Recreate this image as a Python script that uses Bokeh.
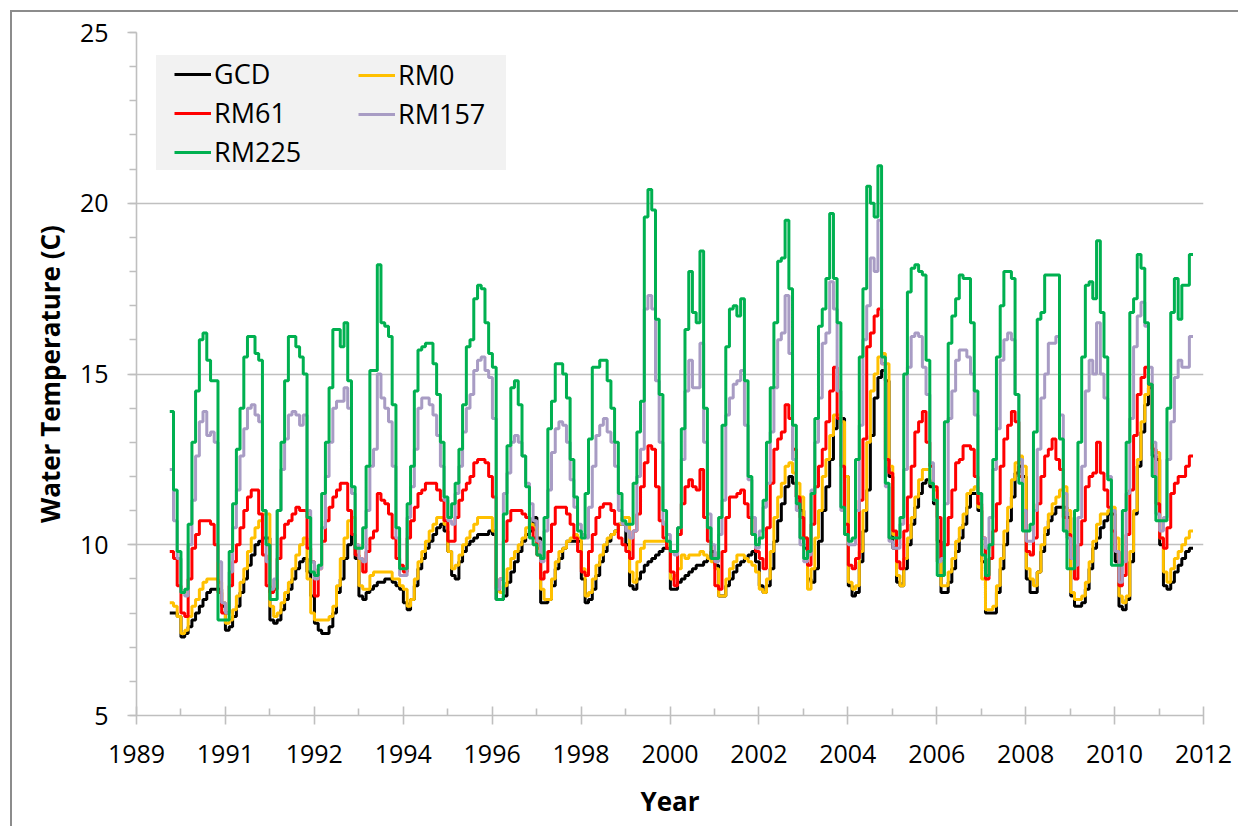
import pandas as pd
from bokeh.plotting import figure
from bokeh.models import Range1d, FixedTicker, Legend, LegendItem
from bokeh.embed import file_html
from bokeh.resources import INLINE

# ---------------- data (monthly means, water years Oct..Sep) ----------------
SERIES_NAMES = ["GCD", "RM0", "RM61", "RM157", "RM225"]
SERIES_COLORS = ["#000000", "#FFC000", "#FF0000", "#A89CC4", "#00B050"]
FIRST_MONTH = "1989-10-01"
WATER_YEARS = list(range(1990, 2013))

GCD = [
    [8.0, 8.0, 7.9, 7.3, 7.4, 7.6, 7.8, 8.0, 8.2, 8.4, 8.6, 8.7],
    [8.7, 8.7, 8.2, 7.5, 7.6, 7.9, 8.2, 8.6, 9.0, 9.4, 9.7, 10.0],
    [10.1, 10.2, 10.2, 7.8, 7.7, 7.8, 8.1, 8.4, 8.7, 9.0, 9.3, 9.5],
    [9.6, 9.2, 8.5, 7.7, 7.5, 7.4, 7.4, 7.6, 8.0, 8.6, 9.0, 9.6],
    [10.0, 10.3, 9.6, 8.5, 8.4, 8.6, 8.7, 8.8, 8.9, 8.9, 9.0, 9.0],
    [8.9, 8.8, 8.7, 8.3, 8.1, 8.4, 8.8, 9.3, 9.6, 9.9, 10.1, 10.3],
    [10.5, 10.6, 10.4, 9.8, 9.1, 9.0, 9.5, 9.8, 10.0, 10.1, 10.2, 10.3],
    [10.3, 10.3, 10.4, 10.3, 8.4, 8.4, 8.5, 8.9, 9.2, 9.5, 9.8, 10.1],
    [10.3, 10.4, 10.8, 10.2, 8.3, 8.3, 8.4, 8.8, 9.3, 9.6, 9.9, 10.1],
    [10.1, 10.1, 10.1, 9.0, 8.3, 8.4, 8.7, 9.1, 9.5, 9.8, 10.1, 10.3],
    [10.4, 10.6, 10.6, 10.0, 8.8, 8.7, 9.0, 9.2, 9.4, 9.5, 9.6, 9.7],
    [9.8, 9.9, 9.9, 8.7, 8.7, 8.9, 9.0, 9.1, 9.2, 9.3, 9.4, 9.4],
    [9.5, 9.6, 9.8, 9.4, 8.5, 8.5, 8.8, 9.0, 9.2, 9.4, 9.5, 9.6],
    [9.7, 9.8, 9.5, 8.8, 8.6, 8.8, 9.3, 10.1, 10.7, 11.2, 11.7, 12.0],
    [11.8, 11.4, 11.0, 9.9, 9.0, 8.9, 9.3, 10.1, 11.0, 11.7, 12.5, 13.4],
    [13.7, 13.7, 12.0, 8.8, 8.5, 8.6, 9.5, 10.4, 11.6, 13.2, 14.3, 14.9],
    [15.1, 14.8, 12.0, 9.9, 8.9, 8.8, 9.3, 10.0, 10.6, 11.1, 11.5, 11.8],
    [11.9, 11.7, 11.2, 10.1, 8.6, 8.6, 8.9, 9.3, 9.8, 10.2, 10.6, 11.1],
    [11.5, 11.5, 11.0, 9.5, 8.0, 8.0, 8.0, 8.6, 9.3, 10.0, 10.7, 11.4],
    [12.1, 12.3, 12.0, 9.0, 8.6, 8.6, 9.2, 9.8, 10.3, 10.7, 10.9, 11.1],
    [11.1, 11.1, 10.8, 8.5, 8.2, 8.2, 8.3, 8.7, 9.3, 9.9, 10.2, 10.5],
    [10.7, 10.9, 10.9, 9.5, 8.2, 8.1, 8.4, 9.5, 10.9, 12.3, 13.3, 14.1],
    [14.6, 12.6, 12.5, 10.0, 8.8, 8.7, 8.9, 9.2, 9.4, 9.6, 9.8, 9.9],
]

RM0 = [
    [8.3, 8.2, 7.9, 7.4, 7.5, 7.9, 8.2, 8.4, 8.7, 8.9, 9.0, 9.0],
    [9.0, 8.9, 8.3, 7.7, 7.8, 8.1, 8.5, 8.9, 9.3, 9.8, 10.2, 10.5],
    [10.7, 10.9, 10.9, 8.2, 7.9, 8.0, 8.3, 8.6, 8.9, 9.3, 9.7, 10.0],
    [10.2, 9.0, 8.0, 7.8, 7.8, 7.8, 7.8, 7.9, 8.2, 8.8, 9.6, 10.2],
    [10.7, 10.8, 10.0, 8.8, 8.7, 8.7, 9.1, 9.2, 9.2, 9.2, 9.2, 9.2],
    [9.0, 9.0, 8.8, 8.7, 8.2, 8.4, 9.0, 9.5, 9.8, 10.1, 10.4, 10.6],
    [10.8, 10.8, 10.6, 9.8, 9.3, 9.4, 9.7, 10.0, 10.2, 10.4, 10.6, 10.8],
    [10.8, 10.8, 10.8, 10.4, 8.8, 8.6, 8.8, 9.3, 9.6, 9.8, 10.0, 10.2],
    [10.5, 10.6, 10.5, 9.9, 8.7, 8.4, 8.4, 9.0, 9.5, 9.8, 9.9, 10.1],
    [10.2, 10.3, 10.2, 9.3, 8.5, 8.6, 9.0, 9.4, 9.7, 10.0, 10.2, 10.3],
    [10.4, 10.6, 10.8, 10.8, 9.2, 8.9, 9.5, 9.9, 10.1, 10.1, 10.1, 10.1],
    [10.1, 10.1, 10.0, 9.0, 9.1, 9.3, 9.7, 9.6, 9.7, 9.7, 9.7, 9.8],
    [9.7, 9.6, 9.5, 9.3, 8.5, 8.5, 9.0, 9.3, 9.5, 9.7, 9.7, 9.6],
    [9.5, 9.4, 9.2, 8.7, 8.6, 9.0, 9.8, 10.8, 11.4, 11.8, 12.3, 12.4],
    [12.1, 11.8, 11.4, 10.2, 8.7, 9.3, 10.2, 11.0, 12.0, 12.5, 13.2, 13.8],
    [13.8, 13.6, 12.0, 8.9, 8.7, 8.8, 9.8, 11.0, 13.0, 14.5, 15.0, 15.5],
    [15.6, 15.3, 12.3, 10.3, 9.1, 8.8, 9.6, 10.2, 10.8, 11.4, 11.9, 12.2],
    [12.2, 11.8, 11.6, 9.5, 8.8, 8.8, 9.2, 9.6, 10.1, 10.5, 10.9, 11.5],
    [11.6, 11.7, 11.1, 9.0, 8.1, 8.1, 8.2, 8.8, 9.6, 10.4, 11.1, 11.9],
    [12.4, 12.6, 12.3, 9.3, 9.0, 8.8, 9.2, 10.0, 10.5, 10.9, 11.2, 11.4],
    [11.6, 11.7, 11.0, 8.6, 8.4, 8.4, 8.5, 8.9, 9.5, 10.1, 10.6, 10.9],
    [10.9, 11.0, 11.1, 10.2, 8.5, 8.3, 8.5, 9.8, 11.0, 12.5, 13.6, 14.4],
    [14.7, 12.8, 12.7, 10.2, 9.2, 8.9, 9.3, 9.6, 9.8, 10.0, 10.2, 10.4],
]

RM61 = [
    [9.8, 9.6, 8.8, 8.0, 7.9, 9.0, 9.9, 10.3, 10.7, 10.7, 10.7, 10.6],
    [10.0, 8.6, 8.0, 8.0, 8.8, 9.5, 10.0, 10.5, 11.0, 11.4, 11.6, 11.6],
    [10.9, 9.7, 8.8, 8.6, 8.7, 9.6, 10.2, 10.6, 10.7, 10.9, 11.1, 11.0],
    [11.0, 9.9, 9.5, 8.5, 9.3, 10.1, 10.7, 11.1, 11.4, 11.6, 11.8, 11.8],
    [11.0, 10.3, 9.7, 9.6, 9.2, 9.8, 10.2, 10.4, 11.5, 11.3, 11.2, 10.9],
    [10.2, 9.6, 9.4, 9.2, 10.2, 10.7, 11.1, 11.5, 11.6, 11.8, 11.8, 11.8],
    [11.6, 11.3, 10.7, 10.1, 10.1, 10.8, 11.3, 11.6, 11.8, 12.0, 12.4, 12.5],
    [12.5, 12.4, 12.0, 11.4, 8.7, 9.0, 10.1, 10.7, 11.0, 11.0, 11.0, 10.9],
    [10.8, 10.5, 10.2, 9.7, 9.0, 9.2, 9.8, 10.6, 11.1, 11.1, 11.1, 10.9],
    [10.6, 10.2, 9.8, 9.2, 9.1, 9.8, 10.3, 10.8, 11.1, 11.2, 11.2, 11.0],
    [10.6, 10.2, 10.0, 9.8, 9.6, 10.4, 10.9, 11.7, 12.4, 12.9, 12.8, 11.7],
    [10.7, 10.2, 9.9, 9.2, 8.8, 10.3, 11.2, 11.7, 11.9, 11.7, 11.6, 12.2],
    [10.8, 10.1, 9.6, 8.8, 8.7, 9.8, 10.8, 11.4, 11.4, 11.5, 11.6, 11.2],
    [10.8, 10.3, 9.8, 9.6, 9.3, 10.5, 11.8, 12.8, 13.1, 13.3, 14.1, 13.7],
    [12.8, 11.4, 10.8, 10.2, 9.4, 10.6, 11.7, 12.3, 12.8, 13.6, 14.5, 15.2],
    [13.7, 12.3, 10.6, 9.4, 9.3, 9.6, 11.3, 13.1, 15.8, 16.2, 16.7, 16.9],
    [15.3, 12.5, 12.1, 10.4, 9.5, 9.3, 10.4, 11.4, 12.3, 13.3, 13.6, 13.9],
    [13.0, 12.3, 11.7, 10.8, 9.6, 10.0, 10.8, 11.6, 12.4, 12.5, 12.9, 12.9],
    [12.8, 12.0, 11.2, 10.2, 9.0, 9.6, 10.4, 11.2, 12.3, 13.1, 13.5, 13.9],
    [13.6, 12.0, 11.0, 9.8, 9.7, 10.2, 11.2, 12.0, 12.6, 12.8, 13.1, 12.5],
    [12.2, 10.8, 10.3, 9.6, 9.0, 10.0, 10.7, 11.7, 12.0, 12.1, 13.0, 12.1],
    [11.6, 11.1, 10.4, 9.8, 8.8, 9.1, 10.3, 11.6, 13.2, 14.4, 14.9, 15.2],
    [14.7, 12.8, 11.2, 10.2, 9.9, 10.5, 11.5, 11.8, 12.0, 12.0, 12.3, 12.6],
]

RM157 = [
    [12.2, 10.7, 9.6, 8.6, 8.5, 10.0, 11.3, 12.6, 13.6, 13.9, 13.2, 13.3],
    [13.0, 9.5, 8.3, 8.0, 9.2, 10.5, 11.6, 12.6, 13.4, 14.0, 14.1, 13.8],
    [13.6, 11.0, 9.5, 8.7, 9.0, 11.0, 12.2, 13.1, 13.8, 13.9, 13.8, 13.5],
    [13.8, 11.0, 9.5, 9.0, 9.3, 10.5, 12.0, 13.0, 14.0, 14.2, 14.2, 14.6],
    [14.0, 11.5, 10.0, 9.6, 9.5, 11.0, 12.3, 12.8, 15.0, 14.3, 14.0, 13.6],
    [12.3, 10.2, 9.1, 9.1, 10.8, 11.7, 12.8, 14.0, 14.3, 14.3, 14.1, 13.8],
    [13.2, 12.3, 11.3, 10.7, 10.6, 11.5, 12.3, 13.3, 14.0, 14.4, 15.1, 15.4],
    [15.5, 15.1, 14.9, 13.7, 8.7, 9.0, 11.5, 12.1, 13.0, 13.2, 13.0, 12.6],
    [11.8, 11.2, 10.7, 10.1, 9.5, 10.4, 11.6, 12.7, 13.4, 13.6, 13.5, 13.0],
    [11.9, 11.1, 10.6, 10.3, 10.2, 11.1, 12.3, 13.2, 13.5, 13.7, 13.3, 13.0],
    [12.3, 11.0, 10.6, 10.4, 10.2, 10.4, 12.0, 12.8, 16.9, 17.3, 16.9, 14.8],
    [13.0, 10.6, 10.3, 9.8, 9.7, 10.5, 12.5, 14.5, 15.4, 14.6, 14.6, 15.9],
    [13.0, 10.9, 10.0, 9.5, 10.3, 11.3, 13.8, 14.3, 14.7, 14.8, 15.1, 13.5],
    [11.9, 10.8, 9.9, 10.4, 11.1, 11.8, 13.3, 14.6, 16.0, 16.2, 17.3, 15.6],
    [12.5, 11.0, 10.0, 9.5, 9.7, 11.6, 13.0, 14.3, 15.9, 16.2, 17.7, 16.9],
    [14.5, 11.0, 10.3, 10.0, 10.0, 11.0, 13.5, 16.0, 17.0, 18.4, 18.0, 19.5],
    [15.3, 11.7, 10.1, 9.9, 9.9, 10.6, 12.2, 15.2, 16.1, 16.2, 16.1, 15.2],
    [14.4, 12.4, 11.3, 9.5, 9.6, 11.2, 13.7, 14.5, 15.4, 15.7, 15.7, 15.5],
    [15.0, 13.8, 11.5, 10.2, 9.9, 10.8, 12.2, 13.4, 15.4, 16.0, 16.2, 16.0],
    [14.4, 12.5, 11.0, 10.1, 10.1, 11.0, 12.8, 14.3, 15.0, 15.9, 15.9, 16.1],
    [13.8, 11.5, 10.2, 9.6, 9.4, 10.8, 12.3, 14.5, 15.4, 15.0, 16.5, 15.0],
    [14.3, 12.0, 11.0, 9.8, 8.9, 9.5, 11.5, 13.7, 15.8, 16.7, 17.1, 16.4],
    [15.2, 13.0, 10.9, 10.4, 10.8, 12.5, 13.6, 14.9, 15.4, 15.2, 15.2, 16.1],
]

RM225 = [
    [13.9, 11.6, 9.8, 8.6, 8.7, 10.6, 13.0, 14.5, 16.0, 16.2, 15.4, 14.8],
    [14.8, 7.8, 7.8, 7.8, 9.8, 11.2, 12.8, 14.0, 15.5, 16.1, 16.1, 15.6],
    [15.4, 11.0, 10.0, 8.4, 8.4, 11.0, 13.0, 14.8, 16.1, 16.1, 15.8, 15.5],
    [15.0, 10.8, 9.2, 9.1, 9.4, 11.5, 13.0, 14.6, 16.3, 16.3, 15.8, 16.5],
    [14.8, 11.7, 9.9, 9.9, 10.5, 12.3, 15.1, 15.1, 18.2, 16.5, 16.4, 16.1],
    [14.1, 10.5, 9.3, 9.3, 11.2, 12.3, 14.5, 15.7, 15.8, 15.9, 15.9, 15.3],
    [14.4, 13.0, 11.4, 10.8, 11.2, 11.8, 12.8, 14.1, 15.8, 16.0, 17.2, 17.6],
    [17.5, 16.5, 15.6, 15.2, 8.4, 8.4, 10.9, 12.9, 14.6, 14.8, 14.1, 12.6],
    [11.7, 10.2, 10.0, 9.7, 9.6, 10.8, 13.4, 14.2, 15.3, 15.3, 15.0, 14.3],
    [12.5, 11.4, 10.4, 10.2, 11.5, 13.1, 15.2, 15.2, 15.4, 15.4, 14.8, 14.0],
    [13.0, 11.5, 10.7, 10.6, 10.6, 11.8, 13.3, 14.2, 19.6, 20.4, 19.8, 16.6],
    [14.4, 11.0, 10.1, 9.8, 9.8, 10.5, 13.4, 16.3, 18.0, 16.8, 16.5, 18.6],
    [14.0, 10.5, 9.6, 9.6, 10.8, 13.5, 15.8, 16.9, 17.0, 16.7, 17.2, 14.8],
    [12.0, 10.3, 10.0, 10.2, 11.3, 13.0, 14.6, 16.5, 18.3, 18.4, 19.5, 17.5],
    [13.5, 11.2, 10.2, 9.6, 9.8, 11.5, 13.7, 16.4, 16.9, 17.8, 19.7, 17.8],
    [16.5, 11.1, 10.3, 10.1, 10.2, 12.5, 15.5, 17.5, 20.5, 20.0, 19.6, 21.1],
    [15.5, 11.8, 10.2, 10.2, 10.2, 10.8, 15.0, 17.4, 18.1, 18.2, 18.0, 17.9],
    [15.4, 11.8, 11.3, 9.1, 9.1, 13.6, 15.9, 16.7, 17.2, 17.9, 17.8, 17.8],
    [16.5, 14.5, 11.5, 9.7, 9.1, 10.0, 12.5, 15.5, 17.0, 18.0, 18.0, 17.8],
    [14.4, 11.8, 10.4, 10.4, 10.6, 13.3, 16.6, 16.8, 17.9, 17.9, 17.9, 17.9],
    [13.1, 10.4, 9.3, 9.3, 11.0, 13.0, 15.5, 17.6, 17.7, 17.2, 18.9, 16.8],
    [15.5, 11.9, 9.4, 9.4, 9.4, 11.0, 13.0, 16.8, 17.2, 18.5, 18.1, 16.5],
    [14.7, 12.0, 10.7, 10.7, 10.7, 14.0, 16.8, 17.8, 16.6, 17.6, 17.6, 18.5],
]

# Date axis as Excel drew it: starts 1989-01-01, a major unit of 730 days
AXIS_START = "1989-01-01"
AXIS_UNIT_DAYS = 730
TICK_LABELS = ["1989", "1991", "1992", "1994", "1996", "1998", "2000",
               "2002", "2004", "2006", "2008", "2010", "2012"]
Y_TICKS = [5, 10, 15, 20, 25]

# ---------------- build x (days since axis start) ----------------
origin = pd.Timestamp(AXIS_START)
n_months = 12 * len(WATER_YEARS)
month_starts = pd.date_range(FIRST_MONTH, periods=n_months + 1, freq="MS")
x_days = [int((d - origin).days) for d in month_starts]

def flat(rows):
    out = [v for r in rows for v in r]
    return out + [out[-1]]

series = [GCD, RM0, RM61, RM157, RM225]

major = [AXIS_UNIT_DAYS * k for k in range(len(TICK_LABELS))]
minor = [AXIS_UNIT_DAYS * k + AXIS_UNIT_DAYS // 2 for k in range(len(TICK_LABELS) - 1)]

FONT = "Open Sans"
AX = "#BFBFBF"

p = figure(width=1228, height=816,
           x_range=Range1d(major[0], major[-1]), y_range=Range1d(Y_TICKS[0], Y_TICKS[-1]),
           output_backend="svg", toolbar_location=None,
           min_border_left=124, min_border_right=37, min_border_top=20, min_border_bottom=113)
p.styles = {"margin-left": "10px", "margin-top": "10px",
            "border-left": "2px solid #8C8C8C", "border-top": "2px solid #8C8C8C"}
p.outline_line_color = None
p.background_fill_color = "white"
p.border_fill_color = "white"

renderers = []
for vals, name, col in zip(series, SERIES_NAMES, SERIES_COLORS):
    r = p.step(x=x_days, y=flat(vals), mode="after", line_color=col, line_width=3)
    renderers.append(r)

# x axis
xa = p.xaxis[0]
xa.ticker = FixedTicker(ticks=major, minor_ticks=minor)
xa.major_label_overrides = {m: lab for m, lab in zip(major, TICK_LABELS)}
xa.major_tick_in = 9
xa.major_tick_out = 9
xa.minor_tick_in = 7
xa.minor_tick_out = 0
xa.major_label_standoff = 20
xa.axis_label = "Year"
xa.axis_label_standoff = 17

# y axis
ya = p.yaxis[0]
ya.ticker = FixedTicker(ticks=Y_TICKS, minor_ticks=list(range(Y_TICKS[0], Y_TICKS[-1] + 1)))
ya.major_tick_in = 0
ya.major_tick_out = 9
ya.minor_tick_in = 0
ya.minor_tick_out = 7
ya.major_label_standoff = 19
ya.axis_label = "Water Temperature (C)"
ya.axis_label_standoff = 9

for ax in (xa, ya):
    ax.axis_line_color = AX
    ax.axis_line_width = 1.6
    ax.major_tick_line_color = AX
    ax.major_tick_line_width = 1.6
    ax.minor_tick_line_color = AX
    ax.minor_tick_line_width = 1.6
    ax.major_label_text_font = FONT
    ax.major_label_text_font_size = "25px"
    ax.major_label_text_color = "#000000"
    ax.axis_label_text_font = FONT
    ax.axis_label_text_font_size = "26px"
    ax.axis_label_text_font_style = "bold"
    ax.axis_label_text_color = "#000000"

p.xgrid.visible = False
p.ygrid.ticker = FixedTicker(ticks=Y_TICKS)
p.ygrid.grid_line_color = "#C0C0C0"
p.ygrid.grid_line_width = 1.6

# legend: two columns (Excel layout), the first box carries the grey background;
# a blank left-side title widens that box to the left like Excel's padding
leg_common = dict(label_text_font=FONT, label_text_font_size="27px",
                  label_text_color="#000000", glyph_width=37, glyph_height=20,
                  label_standoff=3, spacing=2, padding=8, border_line_color=None)
col1 = [0, 2, 4]
col2 = [1, 3]
legA = Legend(items=[LegendItem(label=SERIES_NAMES[i], renderers=[renderers[i]]) for i in col1],
              location=(20, 545), label_width=292,
              title=" ", title_location="left", title_text_font_size="1px",
              title_standoff=17,
              background_fill_color="#F2F2F2", background_fill_alpha=1.0, **leg_common)
legB = Legend(items=[LegendItem(label=SERIES_NAMES[i], renderers=[renderers[i]]) for i in col2],
              location=(222, 583), background_fill_alpha=0.0, **leg_common)
p.add_layout(legA)
p.add_layout(legB)

open("out.html", "w").write(file_html(p, INLINE))
